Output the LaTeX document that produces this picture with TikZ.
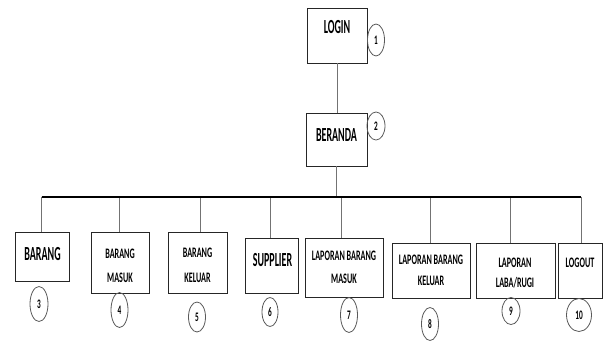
\documentclass[tikz,border=0pt]{standalone}
\usepackage{fontspec}
\setmainfont{Carlito}
\newfontfamily\bigf{Carlito}[FakeStretch=0.5]
\newfontfamily\smf{Carlito}[FakeStretch=0.56]
\usetikzlibrary{shapes.geometric}
\begin{document}
\begin{tikzpicture}[x=1pt,y=-1pt,
 box/.style={draw=black!85, line width=0.9pt, inner sep=0pt},
 num/.style={draw=black!65, ellipse, line width=0.8pt, inner sep=0pt, font=\smf\bfseries\fontsize{13}{13}\selectfont},
 big/.style={anchor=base, inner sep=0pt, font=\bigf\bfseries\fontsize{20}{20}\selectfont},
 small/.style={anchor=base, inner sep=0pt, font=\smf\bfseries\fontsize{14.5}{14.5}\selectfont},
 link/.style={draw=black!55, line width=0.7pt},
 bus/.style={line width=2.4pt, black}]
\useasboundingbox (0,0) rectangle (610,340);

% boxes
\node[box, minimum width=60, minimum height=55] (login) at (337,35.5) {};
\node[box, minimum width=61, minimum height=53] (beranda) at (336.5,139.5) {};
\node[box, minimum width=54, minimum height=49] (barang) at (42,256.5) {};
\node[box, minimum width=58, minimum height=61] (bmasuk) at (120,262.5) {};
\node[box, minimum width=59, minimum height=61] (bkeluar) at (197.5,262.5) {};
\node[box, minimum width=53, minimum height=55] (supplier) at (272.3,265.5) {};
\node[box, minimum width=78, minimum height=59] (lbm) at (344,267.5) {};
\node[box, minimum width=78, minimum height=55] (lbk) at (431,270.5) {};
\node[box, minimum width=79, minimum height=55] (llr) at (515.5,270.5) {};
\node[box, minimum width=44, minimum height=55] (logout) at (580,270.5) {};

% labels
\node[big] (tlogin) at (337,33) {LOGIN};
\node[big] (tberanda) at (336.5,141) {BERANDA};
\node[big] (tbarang) at (42.5,260) {BARANG};
\node[small] (tbm1) at (120,258) {BARANG};
\node[small] (tbm2) at (120,282) {MASUK};
\node[small] (tbk1) at (197.5,257) {BARANG};
\node[small] (tbk2) at (197.5,282) {KELUAR};
\node[big] (tsupplier) at (272.5,266) {SUPPLIER};
\node[small] (tlbm1) at (344,260) {LAPORAN BARANG};
\node[small] (tlbm2) at (344,283) {MASUK};
\node[small] (tlbk1) at (431,264) {LAPORAN BARANG};
\node[small] (tlbk2) at (431,285) {KELUAR};
\node[small] (tllr1) at (515,267) {LAPORAN};
\node[small] (tllr2) at (515,287) {LABA/RUGI};
\node[small] (tlogout) at (580,267) {LOGOUT};

% numbers
\node[num, minimum width=17, minimum height=32] (c1) at (376,40) {1};
\node[num, minimum width=18, minimum height=28] (c2) at (376,126) {2};
\node[num, minimum width=18, minimum height=35] (c3) at (39,304) {3};
\node[num, minimum width=17, minimum height=35] (c4) at (119.5,310) {4};
\node[num, minimum width=17, minimum height=30] (c5) at (197,317) {5};
\node[num, minimum width=16, minimum height=29] (c6) at (270,312) {6};
\node[num, minimum width=17, minimum height=35] (c7) at (349,315) {7};
\node[num, minimum width=17, minimum height=33] (c8) at (430,324) {8};
\node[num, minimum width=18, minimum height=27] (c9) at (511,311) {9};
\node[num, minimum width=25, minimum height=33] (c10) at (579,315) {10};

% bus coordinates
\coordinate (k3) at (41.7,196.7);
\coordinate (k4) at (119.3,196.7);
\coordinate (k5) at (200,196.7);
\coordinate (k6) at (270,196.7);
\coordinate (k7) at (341,196.7);
\coordinate (k8) at (430.7,196.7);
\coordinate (k9) at (510,196.7);
\coordinate (k10) at (581,196.7);

% connectors
\draw[link] (login.south) -- (login.south |- beranda.north);
\draw[link] (beranda.south) -- (beranda.south |- k3);
\draw[link] (k3) -- (k3 |- barang.north);
\draw[link] (k4) -- (k4 |- bmasuk.north);
\draw[link] (k5) -- (k5 |- bkeluar.north);
\draw[link] (k6) -- (k6 |- supplier.north);
\draw[link] (k7) -- (k7 |- lbm.north);
\draw[link] (k8) -- (k8 |- lbk.north);
\draw[link] (k9) -- (k9 |- llr.north);
\draw[link] (k10) -- (k10 |- logout.north);
\draw[bus] (k3) -- (k10);
\end{tikzpicture}
\end{document}
